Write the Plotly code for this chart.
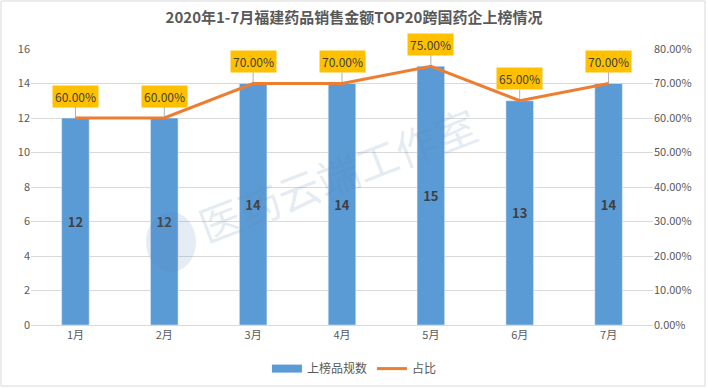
import plotly.graph_objects as go

months = ["1月", "2月", "3月", "4月", "5月", "6月", "7月"]
counts = [12, 12, 14, 14, 15, 13, 14]
shares = [0.60, 0.60, 0.70, 0.70, 0.75, 0.65, 0.70]
left_ticks = [0, 2, 4, 6, 8, 10, 12, 14, 16]
right_ticks = [0, 0.1, 0.2, 0.3, 0.4, 0.5, 0.6, 0.7, 0.8]

FONT = "Noto Sans CJK SC"
BLUE = "#5B9BD5"
ORANGE = "#ED7D31"
fig = go.Figure()
fig.add_trace(go.Bar(
    x=months, y=counts, name="上榜品规数", marker_color=BLUE, showlegend=False,
    text=counts, textposition="inside", insidetextanchor="middle",
    textfont=dict(family=FONT, size=13, color="#404040", weight="bold"),
    textangle=0,
))
fig.add_trace(go.Scatter(
    x=months, y=shares, name="占比", mode="lines", yaxis="y2",
    line=dict(color=ORANGE, width=3), showlegend=False,
))
# legend entries (wide swatch look like the original)
fig.add_trace(go.Scatter(x=[None], y=[None], mode="lines", name="上榜品规数",
                         line=dict(color=BLUE, width=8)))
fig.add_trace(go.Scatter(x=[None], y=[None], mode="lines", name="占比", yaxis="y2",
                         line=dict(color=ORANGE, width=3)))

for m, s in zip(months, shares):
    fig.add_annotation(
        x=m, y=s, yref="y2", text=f"{s*100:.2f}%", showarrow=True,
        arrowhead=0, arrowwidth=0.7, arrowcolor="#8c8c8c", ax=0, ay=-22,
        bgcolor="#FFC000", borderpad=2,
        font=dict(family=FONT, size=12, color="#404040"),
    )

# watermark
fig.add_annotation(
    xref="paper", yref="paper", x=0.492, y=0.55, text="医药云端工作室",
    showarrow=False, textangle=-21,
    font=dict(family=FONT, size=42, color="rgba(90,130,180,0.17)"),
)

fig.update_layout(
    width=708, height=388,
    margin=dict(l=31, r=55, t=49, b=63, autoexpand=False),
    paper_bgcolor="white", plot_bgcolor="white",
    title=dict(text="2020年1-7月福建药品销售金额TOP20跨国药企上榜情况",
               x=0.5, xanchor="center", y=0.955, yanchor="middle",
               font=dict(family=FONT, size=15, color="#595959", weight="bold")),
    font=dict(family=FONT, size=11, color="#595959"),
    bargap=0.69,
    showlegend=True,
    legend=dict(orientation="h", x=0.52, xanchor="center", yref="container", y=0.05,
                yanchor="middle", itemwidth=30, tracegroupgap=0,
                font=dict(family=FONT, size=12, color="#595959")),
    xaxis=dict(showline=True, linecolor="#d9d9d9", ticks="", showgrid=False, automargin=False,
               tickfont=dict(family=FONT, size=11, color="#595959")),
    yaxis=dict(range=[0, 16], tickvals=left_ticks, showgrid=True, gridcolor="#d9d9d9",
               automargin=False, zeroline=False, ticks="", tickfont=dict(size=11, color="#595959")),
    yaxis2=dict(range=[0, 0.8], tickvals=right_ticks, tickformat=".2%", overlaying="y",
                side="right", showgrid=False, zeroline=False, ticks="", automargin=False,
                tickfont=dict(size=11, color="#595959")),
    shapes=[
        dict(type="rect", xref="paper", yref="paper",
             x0=-30/622, x1=1 + 52/622, y0=-61/276, y1=1 + 48/276,
             line=dict(color="#d9d9d9", width=1)),
        dict(type="circle", xref="paper", yref="paper",
             x0=(146-31)/622, x1=(196-31)/622, y0=(325-272)/276, y1=(325-212)/276,
             fillcolor="rgba(90,130,180,0.15)", line=dict(width=0)),
    ],
)

fig.write_html("out.html", config={"displayModeBar": False},
               post_script="document.body.style.margin='0';document.body.style.overflow='hidden';")
